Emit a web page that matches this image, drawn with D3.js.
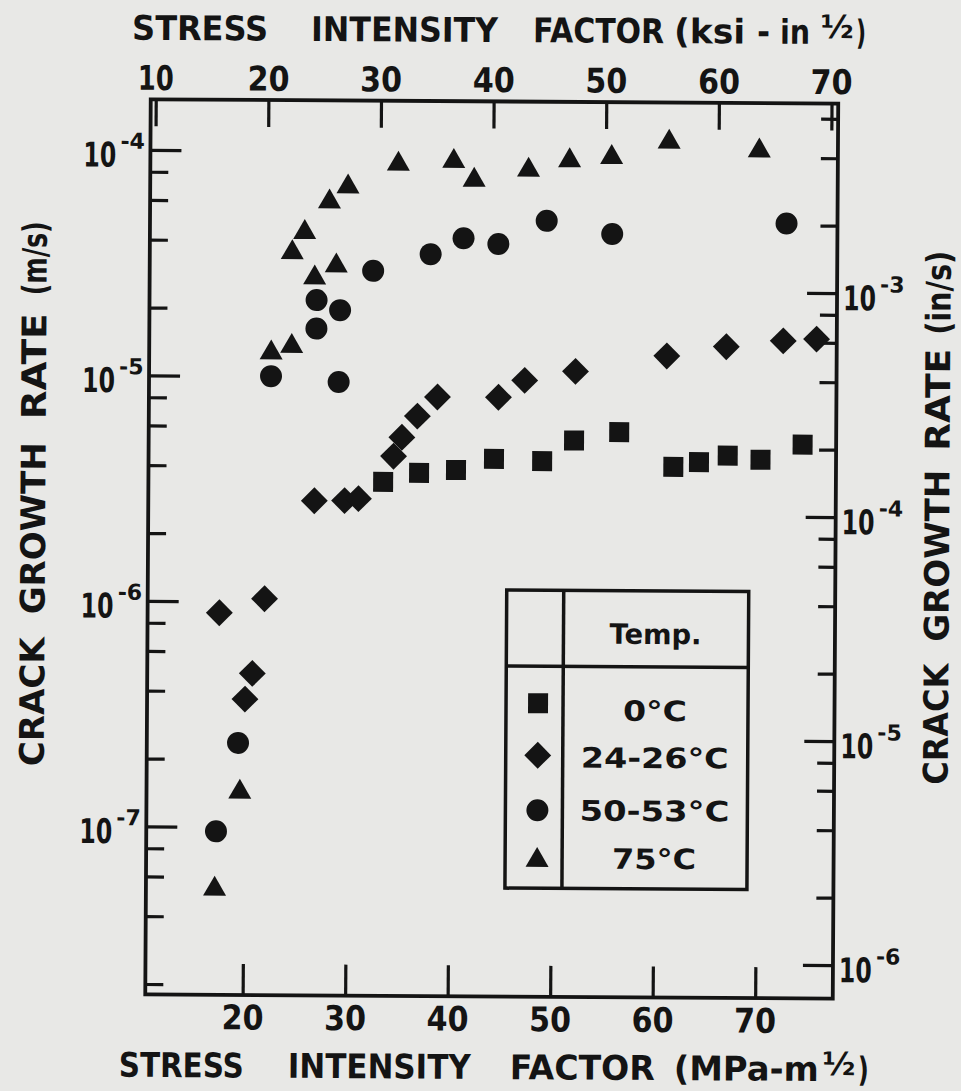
<!DOCTYPE html>
<html>
<head>
<meta charset="utf-8">
<script src="https://cdn.jsdelivr.net/npm/d3@7"></script>
<style>
  body { margin: 0; background: #e8e8e6; }
  svg { display: block; }
  text { font-family: "DejaVu Sans", sans-serif; font-weight: bold; fill: #141414; }
</style>
</head>
<body>
<div id="chart"></div>
<script>
// K in MPa·m^1/2, crack growth rate in m/s, one pair of arrays per temperature
const k0 = [33.4, 36.9, 40.5, 44.2, 48.9, 52.0, 56.4, 61.7, 64.2, 67.0, 70.2, 74.3];
const v0 = [3.42e-6, 3.76e-6, 3.88e-6, 4.36e-6, 4.27e-6, 5.28e-6, 5.77e-6, 4.06e-6, 4.27e-6, 4.57e-6, 4.39e-6, 5.14e-6];

const k25 = [17.5, 21.9, 20.75, 20.05, 26.7, 29.65, 31.0, 34.4, 35.2, 36.7, 38.65, 44.6, 47.15, 52.1, 61.0, 66.8, 72.35, 75.6];
const v25 = [8.9e-7, 1.03e-6, 4.8e-7, 3.69e-7, 2.81e-6, 2.82e-6, 2.88e-6, 4.45e-6, 5.4e-6, 6.71e-6, 8.17e-6, 8.18e-6, 9.73e-6, 1.07e-5, 1.26e-5, 1.39e-5, 1.48e-5, 1.51e-5];

const k50 = [17.3, 19.4, 22.4, 26.8, 29.1, 26.8, 29.0, 32.3, 37.9, 41.1, 44.5, 49.2, 55.6, 72.6];
const v50 = [9.55e-8, 2.36e-7, 1.0e-5, 2.18e-5, 1.97e-5, 1.63e-5, 9.46e-6, 2.95e-5, 3.51e-5, 4.14e-5, 3.91e-5, 4.97e-5, 4.36e-5, 4.91e-5];

const k75 = [17.2, 19.6, 22.4, 24.4, 24.4, 25.6, 26.6, 28.0, 28.7, 29.8, 34.7, 40.1, 42.1, 47.4, 51.4, 55.5, 61.1, 69.9];
const v75 = [5.3e-8, 1.43e-7, 1.27e-5, 1.36e-5, 3.54e-5, 4.35e-5, 2.74e-5, 5.96e-5, 3.1e-5, 6.95e-5, 8.8e-5, 9.08e-5, 7.5e-5, 8.34e-5, 9.2e-5, 9.54e-5, 1.12e-4, 1.03e-4];

const legendLabels = ["0°C", "24-26°C", "50-53°C", "75°C"];
const bottomTicks = [20, 30, 40, 50, 60, 70];   // MPa·m^1/2
const topTicks = [10, 20, 30, 40, 50, 60, 70];  // ksi·in^1/2
const leftExp = [-4, -5, -6, -7];               // m/s
const rightExp = [-3, -4, -5, -6];              // in/s
const minorMult = [2, 4, 6, 8];

const W = 961, H = 1091;
const ink = "#141414";
const KSI = 1.0988; // MPa·m^1/2 per ksi·in^1/2

const svg = d3.select("#chart").append("svg")
  .attr("width", W)
  .attr("height", H);

svg.append("rect").attr("width", W).attr("height", H).attr("fill", "#e8e8e6");

// the scanned figure sits slightly turned on the page
const g = svg.append("g").attr("transform", "rotate(0.35, 490, 548)");

const frame = { l: 148, r: 835.5, t: 101.4, b: 996.5 };

const x = d3.scaleLinear().domain([10.5, 77.57]).range([frame.l, frame.r]);
const xTop = d3.scaleLinear().domain(x.domain().map(d => d / KSI)).range(x.range());
const y = d3.scaleLog().domain([10 ** -3.7756, 10 ** -7.745]).range([frame.t, frame.b]);
const yR = d3.scaleLog().domain([10 ** -2.1536, 10 ** -6.1496]).range([frame.t, frame.b]);

const inside = sc => v => sc(v) > frame.t + 4 && sc(v) < frame.b - 4;
const leftMinor = leftExp.concat([-8]).flatMap(e => minorMult.map(m => m * 10 ** e)).filter(inside(y));
const rightMinor = rightExp.flatMap(e => minorMult.map(m => m * 10 ** e)).filter(inside(yR));

function styleAxis(sel) {
  sel.select(".domain").remove();
  sel.selectAll("line").attr("stroke", ink).attr("stroke-width", 3.2);
}

// ticks point inward on all four sides
g.append("g").attr("transform", `translate(${frame.l},0)`)
  .call(d3.axisLeft(y).tickValues(leftExp.map(e => 10 ** e)).tickSize(-31).tickFormat(""))
  .call(styleAxis);
g.append("g").attr("transform", `translate(${frame.l},0)`)
  .call(d3.axisLeft(y).tickValues(leftMinor).tickSize(-18).tickFormat(""))
  .call(styleAxis);
g.append("g").attr("transform", `translate(${frame.r},0)`)
  .call(d3.axisRight(yR).tickValues(rightExp.map(e => 10 ** e)).tickSize(-30).tickFormat(""))
  .call(styleAxis);
g.append("g").attr("transform", `translate(${frame.r},0)`)
  .call(d3.axisRight(yR).tickValues(rightMinor).tickSize(-17).tickFormat(""))
  .call(styleAxis);
g.append("g").attr("transform", `translate(0,${frame.b})`)
  .call(d3.axisBottom(x).tickValues(bottomTicks).tickSize(-31).tickFormat(""))
  .call(styleAxis);
g.append("g").attr("transform", `translate(0,${frame.t})`)
  .call(d3.axisTop(xTop).tickValues(topTicks).tickSize(-27).tickFormat(""))
  .call(styleAxis);

// frame
g.append("rect")
  .attr("x", frame.l).attr("y", frame.t)
  .attr("width", frame.r - frame.l).attr("height", frame.b - frame.t)
  .attr("fill", "none").attr("stroke", ink).attr("stroke-width", 3.8);

// squeeze a text horizontally to the lettered width (keeps its box honest)
function squeeze(sel, width, place) {
  sel.each(function(d) {
    const t = d3.select(this);
    const w = typeof width === "function" ? width(d) : width;
    const s = w / this.getComputedTextLength();
    t.attr("transform", `${place(d)} scale(${s},1)`);
  });
}

// tick labels
g.append("g").selectAll("text").data(bottomTicks).join("text")
  .attr("text-anchor", "middle").attr("font-size", 34)
  .text(d => d)
  .call(squeeze, 42, d => `translate(${x(d)},1031)`);

g.append("g").selectAll("text").data(topTicks).join("text")
  .attr("text-anchor", "middle").attr("font-size", 34)
  .text(d => d)
  .call(squeeze, d => d === 10 ? 36 : 42, d => `translate(${xTop(d)},92)`);

// powers of ten: base and raised exponent as two texts side by side
function powerLabels(exps, sc, x0) {
  const grp = g.append("g").selectAll("g").data(exps).join("g")
    .attr("transform", e => `translate(${x0},${sc(10 ** e)})`);
  grp.append("text")
    .attr("font-size", 34)
    .text("10")
    .call(squeeze, 33, () => "translate(0,17)");
  grp.append("text")
    .attr("x", 37).attr("y", -1).attr("font-size", 22)
    .text(e => e);
}
powerLabels(leftExp, y, frame.l - 67);
powerLabels(rightExp, yR, frame.r + 6);

// axis titles, word by word as lettered: [text, start, end]
const topWords = [["STRESS", 129, 265], ["INTENSITY", 308, 495], ["FACTOR", 530, 661],
                  ["(ksi", 671, 742], ["-", 754, 767], ["in", 777, 807], [")", 853, 863]];
const botWords = [["STRESS", 122, 247], ["INTENSITY", 291, 474], ["FACTOR", 513, 658],
                  ["(MPa-m", 677, 822], [")", 861, 872]];
const leftWords = [["CRACK", 769, 640], ["GROWTH", 617, 445], ["RATE", 422, 316], ["(m/s)", 298, 224]];
const rightWords = [["CRACK", 782, 661], ["GROWTH", 639, 467], ["RATE", 448, 346], ["(in/s)", 332, 248]];

function wordsAcross(words, base) {
  g.append("g").selectAll("text").data(words).join("text")
    .attr("font-size", 34)
    .text(d => d[0])
    .call(squeeze, d => d[2] - d[1], d => `translate(${d[1]},${base})`);
}
function wordsUp(words, base) {
  g.append("g").selectAll("text").data(words).join("text")
    .attr("font-size", 34)
    .text(d => d[0])
    .call(squeeze, d => d[1] - d[2], d => `translate(${base},${d[1]}) rotate(-90)`);
}
wordsAcross(topWords, 42);
wordsAcross(botWords, 1079);
wordsUp(leftWords, 45);
wordsUp(rightWords, 949);

// the raised one-half
g.append("text").attr("x", 834).attr("y", 36).attr("font-size", 32)
  .attr("text-anchor", "middle").text("½");
g.append("text").attr("x", 842).attr("y", 1073).attr("font-size", 32)
  .attr("text-anchor", "middle").text("½");

// markers
const shapes = [
  d3.symbol().type(d3.symbolSquare).size(400),
  d3.symbol().type(d3.symbolSquare).size(361),
  d3.symbol().type(d3.symbolCircle).size(Math.PI * 121),
  d3.symbol().type(d3.symbolTriangle).size(229)
];
const turn = [0, 45, 0, 0];

const series = [
  { k: k75, v: v75, s: 3 },
  { k: k50, v: v50, s: 2 },
  { k: k25, v: v25, s: 1 },
  { k: k0, v: v0, s: 0 }
];

series.forEach(sr => {
  g.append("g").selectAll("path")
    .data(d3.zip(sr.k, sr.v))
    .join("path")
    .attr("d", shapes[sr.s]())
    .attr("transform", d => `translate(${x(d[0])},${y(d[1])}) rotate(${turn[sr.s]})`)
    .attr("fill", ink);
});

// legend table
const lg = { l: 507, r: 749, t: 590, b: 888, col: 564, row: 666 };
const leg = g.append("g");
leg.append("rect")
  .attr("x", lg.l).attr("y", lg.t).attr("width", lg.r - lg.l).attr("height", lg.b - lg.t)
  .attr("fill", "none").attr("stroke", ink).attr("stroke-width", 3.5);
leg.append("line").attr("x1", lg.col).attr("x2", lg.col).attr("y1", lg.t).attr("y2", lg.b)
  .attr("stroke", ink).attr("stroke-width", 3.5);
leg.append("line").attr("x1", lg.l).attr("x2", lg.r).attr("y1", lg.row).attr("y2", lg.row)
  .attr("stroke", ink).attr("stroke-width", 3.5);
leg.append("text")
  .attr("text-anchor", "middle").attr("font-size", 28)
  .text("Temp.")
  .call(squeeze, 92, () => "translate(656,643)");

const rowY = [720, 767, 820, 868];
const rowW = [64, 148, 150, 84];
const markY = [703, 755, 810, 860];
legendLabels.forEach((lab, i) => {
  leg.append("path")
    .attr("d", shapes[i]())
    .attr("transform", `translate(539,${markY[i]}) rotate(${turn[i]})`)
    .attr("fill", ink);
  leg.append("text")
    .attr("text-anchor", "middle").attr("font-size", 28)
    .text(lab)
    .call(squeeze, rowW[i], () => `translate(656,${rowY[i]})`);
});
</script>
</body>
</html>
